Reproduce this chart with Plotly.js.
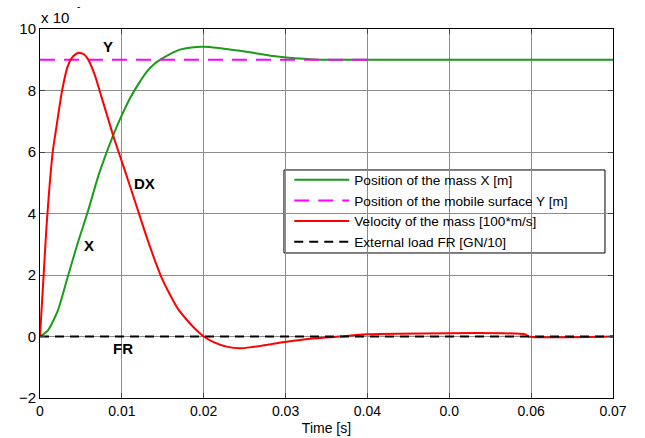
<!DOCTYPE html>
<html>
<head>
<meta charset="utf-8">
<script src="https://cdn.plot.ly/plotly-3.0.1.min.js"></script>
<style>html,body{margin:0;padding:0;background:#fff}#chart{width:645px;height:438px}</style>
</head>
<body>
<div id="chart"></div>
<script>
// Position of the mass X
const timeX = [0, 0.001, 0.0022, 0.0034, 0.0046, 0.0059, 0.0071, 0.0083, 0.0091, 0.0100, 0.0110, 0.0120, 0.0130, 0.0140, 0.0150, 0.0160, 0.0171, 0.0185, 0.0200, 0.0218, 0.0236, 0.0252, 0.0269, 0.0285, 0.0301, 0.0316, 0.0330, 0.0350, 0.0400, 0.0700];
const posX  = [0, 0.21, 0.86, 1.95, 3.03, 4.11, 5.2, 6.1, 6.65, 7.2, 7.75, 8.2, 8.6, 8.87, 9.05, 9.2, 9.33, 9.4, 9.42, 9.38, 9.32, 9.26, 9.19, 9.12, 9.07, 9.04, 9.02, 9.0, 9.0, 9.0];
// Position of the mobile surface Y
const timeY = [0, 0.04];
const posY  = [9, 9];
// Velocity of the mass
const timeV = [0, 0.0004, 0.0008, 0.0012, 0.0016, 0.0020, 0.0027, 0.0034, 0.0040, 0.0047, 0.0054, 0.0059, 0.0067, 0.0075, 0.0083, 0.0091, 0.0103, 0.0116, 0.0132, 0.0148, 0.0160, 0.0169, 0.0183, 0.0191, 0.0200, 0.0212, 0.0228, 0.0244, 0.0260, 0.0280, 0.0301, 0.0330, 0.0366, 0.0399, 0.0593, 0.0597, 0.0700];
const velV  = [0, 1.8, 3.6, 5.0, 6.1, 6.8, 8.0, 8.8, 9.1, 9.23, 9.17, 9.0, 8.5, 7.8, 7.1, 6.4, 5.45, 4.4, 3.1, 1.95, 1.3, 0.88, 0.43, 0.21, 0, -0.18, -0.33, -0.385, -0.34, -0.26, -0.17, -0.07, 0.0, 0.07, 0.07, 0, 0];
// External load FR
const timeF = [0, 0.07];
const loadF = [0, 0];

const names = ['Position of the mass X [m]', 'Position of the mobile surface Y [m]', 'Velocity of the mass [100*m/s]', 'External load FR [GN/10]'];
const xTickVals = [0, 0.01, 0.02, 0.03, 0.04, 0.05, 0.06, 0.07];
const xTickText = ['0', '0.01', '0.02', '0.03', '0.04', '0.0', '0.06', '0.07'];
const yTickVals = [-2, 0, 2, 4, 6, 8, 10];

const labels = [
  {text: 'Y', t: 0.00827, v: 9.42},
  {text: 'DX', t: 0.01274, v: 4.98},
  {text: 'X', t: 0.00602, v: 2.95},
  {text: 'FR', t: 0.0101, v: -0.38}
];

const FONT = 'Liberation Sans, Arial, sans-serif';

const traces = [
  {x: timeX, y: posX, name: names[0], mode: 'lines', line: {color: '#1a9c1a', width: 2, shape: 'spline', smoothing: 0.6}},
  {x: timeY, y: posY, name: names[1], mode: 'lines', line: {color: '#ff00ff', width: 2, dash: '15px,9px'}},
  {x: timeV, y: velV, name: names[2], mode: 'lines', line: {color: '#ff0000', width: 2, shape: 'spline', smoothing: 0.6}},
  {x: timeF, y: loadF, name: names[3], mode: 'lines', line: {color: '#000000', width: 2, dash: '9px,6px'}}
];

const annotations = labels.map(l => ({
  x: l.t, y: l.v, xref: 'x', yref: 'y', text: '<b>' + l.text + '</b>', showarrow: false,
  font: {family: FONT, size: 15, color: '#000'}
}));
annotations.push({x: -0.002, y: 1.03, xref: 'paper', yref: 'paper', xanchor: 'left', yanchor: 'middle',
  text: 'x 10', showarrow: false, font: {family: FONT, size: 15, color: '#000'}});
annotations.push({x: 0.068, y: 1.062, xref: 'paper', yref: 'paper', xanchor: 'center', yanchor: 'middle',
  text: '-', showarrow: false, font: {family: FONT, size: 10, color: '#000'}});

const layout = {
  width: 645, height: 438,
  margin: {l: 40, r: 32, t: 29, b: 40},
  paper_bgcolor: '#fff', plot_bgcolor: '#fff',
  showlegend: true,
  legend: {x: 0.435, y: 0.633, xanchor: 'left', yanchor: 'top', bgcolor: 'rgba(0,0,0,0)', borderwidth: 0,
    font: {family: FONT, size: 13.6, color: '#000'}, itemwidth: 55, tracegroupgap: 0},
  shapes: [{type: 'rect', xref: 'paper', yref: 'paper', x0: 0.4258, x1: 0.986, y0: 0.393, y1: 0.618,
    fillcolor: '#fff', line: {color: '#000', width: 1}, layer: 'between'}],
  xaxis: {range: [0, 0.07], tickvals: xTickVals, ticktext: xTickText, showgrid: true, gridcolor: '#8c8c8c', gridwidth: 1,
    zeroline: false, showline: true, linecolor: '#000', linewidth: 1, mirror: 'ticks', ticks: 'inside', ticklen: 5, tickcolor: '#444',
    tickfont: {family: FONT, size: 14, color: '#000'},
    title: {text: 'Time [s]', font: {family: FONT, size: 14, color: '#000'}, standoff: 5}},
  yaxis: {range: [-2, 10], tickvals: yTickVals, showgrid: true, gridcolor: '#8c8c8c', gridwidth: 1,
    zeroline: false, showline: true, linecolor: '#000', linewidth: 1, mirror: 'ticks', ticks: 'inside', ticklen: 5, tickcolor: '#444',
    tickfont: {family: FONT, size: 15, color: '#000'}},
  annotations: annotations
};

Plotly.newPlot('chart', traces, layout, {displayModeBar: false, staticPlot: true});
</script>
</body>
</html>
